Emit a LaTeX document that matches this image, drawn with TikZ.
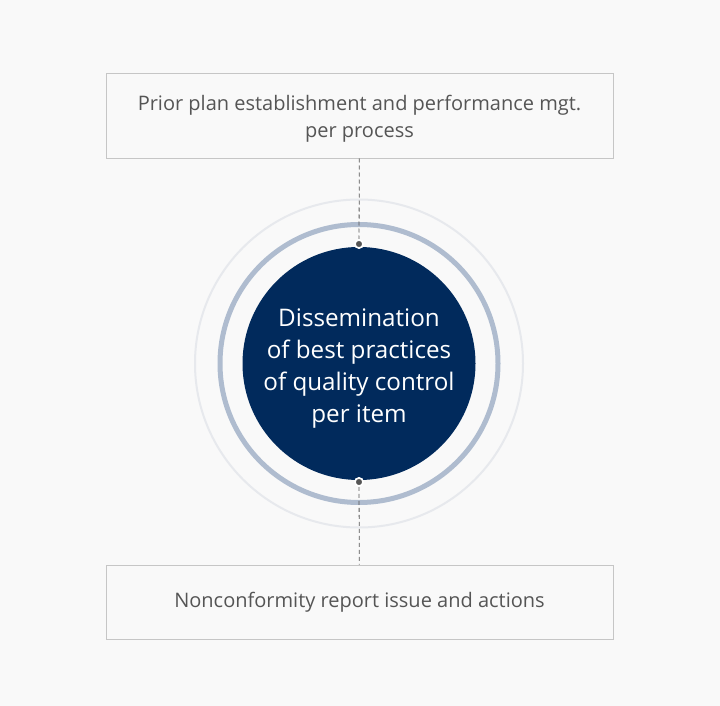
\documentclass[tikz,border=0pt]{standalone}
\usepackage{fontspec}
\setmainfont{Open Sans}
\definecolor{pagebg}{HTML}{F9F9F9}
\definecolor{boxline}{HTML}{C6C6C6}
\definecolor{textgray}{HTML}{555555}
\definecolor{navy}{HTML}{012A5C}
\definecolor{ringblue}{HTML}{AFBCCF}
\definecolor{ringpale}{HTML}{E7E9ED}
\tikzset{
  stepbox/.style={draw=boxline, line width=1pt, fill=pagebg, minimum width=507pt, inner sep=0pt},
  steptext/.style={align=center, text=textgray, font=\fontsize{20}{27}\selectfont, inner sep=0pt},
  hub/.style={circle, fill=navy, minimum size=233pt, inner sep=0pt},
  hubtext/.style={align=center, text=white, font=\fontsize{24.2}{32.2}\selectfont, inner sep=0pt},
  pin/.style={circle, fill=textgray, draw=white, line width=1.6pt, minimum size=8pt, inner sep=0pt},
  link/.style={draw=textgray, line width=0.8pt, dash pattern=on 4pt off 3pt}
}
\begin{document}
\begin{tikzpicture}[x=1pt,y=-1pt]
  \useasboundingbox[fill=pagebg] (0,0) rectangle (720,706);
  % rings round the centre
  \draw[ringpale, line width=2pt] (359,363.5) circle (164);
  \draw[ringblue, line width=5pt] (359,363.5) circle (139);
  \node[hub] (hub) at (359,363.5) {};
  \node[hubtext] (hublabel) at ([yshift=-5pt]hub.center)
    {Dissemination\\of best practices\\of quality control\\per item};
  % boxes
  \node[stepbox, minimum height=84pt] (plan) at (359.5,116) {};
  \node[steptext] (planlabel) at ([yshift=-3pt]plan.center)
    {Prior plan establishment and performance mgt.\\per process};
  \node[stepbox, minimum height=74pt] (report) at (359.5,602) {};
  \node[steptext] (reportlabel) at ([yshift=-0.5pt]report.center)
    {Nonconformity report issue and actions};
  % pins on the hub
  \node[pin] (top) at (359,244) {};
  \node[pin] (bottom) at (359,482) {};
  \draw[link] (plan) -- (top);
  \draw[link] (bottom) -- (report);
  \node[pin] at (top) {};
  \node[pin] at (bottom) {};
\end{tikzpicture}
\end{document}
